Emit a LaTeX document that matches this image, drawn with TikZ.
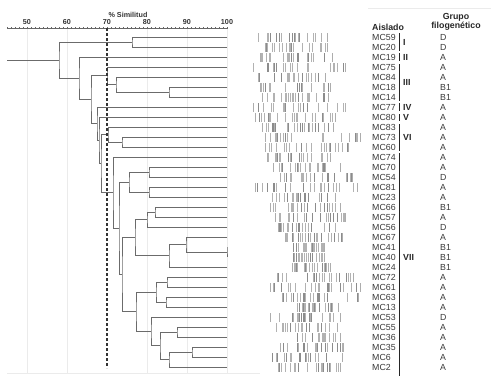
\documentclass[tikz,border=0pt]{standalone}
\usepackage{fontspec}
\setmainfont{Liberation Sans}

\begin{document}
\begin{tikzpicture}[x=1pt, y=-1pt,
  branch/.style={draw=black!58, line width=0.9pt},
  cut/.style={draw=black!80, line width=1.1pt, dash pattern=on 3pt off 2pt},
  grid/.style={draw=black!8, line width=0.6pt},
  axis/.style={draw=black!60, line width=0.6pt},
  iso/.style={anchor=west, inner sep=0pt, text=black!78, font=\fontsize{8.8}{10}\selectfont},
  head/.style={inner sep=0pt, text=black!85, font=\fontsize{8.8}{10}\selectfont\bfseries},
  scale lbl/.style={inner sep=0pt, text=black!80, font=\fontsize{7.2}{8}\selectfont\bfseries},
  clus/.style={draw=black!85, line width=1.9pt},
  clus lbl/.style={anchor=west, inner sep=0pt, text=black!85, font=\fontsize{8.8}{10}\selectfont\bfseries}
]
  \useasboundingbox (0,0) rectangle (491,386);

  % similarity scale
  \foreach \t in {27,67,147,187,227} \draw[grid] (\t,28) -- (\t,373);
  \draw[grid] (7,373) -- (260,373);
  \draw[grid] (368,8) -- (491,8);
  \draw[axis] (7,28) -- (227,28);
  \foreach \t in {7,11,...,227} \draw[axis] (\t,26.8) -- (\t,29.2);
  \foreach \v in {50,60,...,100}
    \node[scale lbl] (s\v) at ({27+(\v-50)*4},22) {\v};
  \node[scale lbl] (simil) at (128,15) {\% Similitud};

  % isolates and phylogenetic groups
  \node[head, anchor=west] (aisl) at (372,27) {Aislado};
  \node[head, align=center] (grupo) at (456,21.5) {Grupo\\[-1pt]filogenético};
  \foreach \n/\g [count=\i from 0] in {MC59/D, MC20/D, MC19/A, MC75/A, MC84/A, MC18/B1,
      MC14/B1, MC77/A, MC80/A, MC83/A, MC73/A, MC60/A, MC74/A, MC70/A, MC54/D, MC81/A,
      MC23/A, MC66/B1, MC57/A, MC56/D, MC67/A, MC41/B1, MC40/B1, MC24/B1, MC72/A, MC61/A,
      MC63/A, MC13/A, MC53/D, MC55/A, MC36/A, MC35/A, MC6/A, MC2/A} {
    \node[iso] (iso\i) at (372,{37+10*\i}) {\n};
    \node[iso] (grp\i) at (440,{37+10*\i}) {\g};
    \coordinate (e\i) at (227,{37+10*\i});
  }

  % cluster bars
  \foreach \ya/\yb/\r/\yl in {33/51/I/42, 53/61/II/57, 64/101/III/82, 103/111/IV/107,
      114/121/V/117, 124/151/VI/137, 153/376/VII/257} {
    \draw[clus] (399.5,\ya) -- (399.5,\yb);
    \node[clus lbl] (c\r) at (403,\yl) {\r};
  }

  % fingerprint bands
  \pgfmathsetseed{31}
  \foreach \a/\b [count=\i from 0] in {258/327, 265/327, 260/332, 253/345, 258/325, 260/330,
      262/328, 253/345, 255/335, 262/333, 265/360, 265/348, 267/330, 273/340, 280/352, 255/357,
      272/335, 270/340, 275/345, 278/335, 285/342, 293/324, 293/324, 292/330, 277/353, 270/360,
      282/358, 297/338, 270/340, 276/337, 297/340, 280/343, 272/342, 278/340} {
    \draw[black!32, line width=0.6pt] (\a,{33+10*\i}) -- (\a,{41.5+10*\i})
      (\b,{33+10*\i}) -- (\b,{41.5+10*\i});
    \foreach \k in {1,...,20} {
      \pgfmathsetmacro\bx{\a+rnd*(\b-\a)}
      \pgfmathsetmacro\bs{rnd>0.7 ? 45 : 30}
      \draw[black!\bs, line width=0.6pt] (\bx,{33+10*\i}) -- (\bx,{41.5+10*\i});
    }
  }

  % dendrogram
  \coordinate (gI) at (132,42);
  \coordinate (h56) at (169,92);
  \coordinate (h4) at (116,84.5);
  \coordinate (gIII) at (107,75.75);
  \coordinate (vA) at (122,142);
  \coordinate (gVI) at (108,134.5);
  \coordinate (f1) at (149,172);
  \coordinate (f2) at (149,192);
  \coordinate (fE) at (129,182);
  \coordinate (k1) at (155,212);
  \coordinate (kL) at (147,219.5);
  \coordinate (k2) at (227,252);
  \coordinate (kN) at (186,244.5);
  \coordinate (kM) at (169,255.75);
  \coordinate (kI) at (135,237.63);
  \coordinate (o1) at (167,282);
  \coordinate (o2) at (166,302);
  \coordinate (kO) at (156,292);
  \coordinate (q1) at (177,332);
  \coordinate (s1) at (192,352);
  \coordinate (kT) at (169,359.5);
  \coordinate (kQ) at (160,345.75);
  \coordinate (kP) at (151,331.38);
  \coordinate (kK) at (136,311.69);
  \coordinate (kJ) at (122,274.66);
  \coordinate (kD) at (119,228.33);
  \coordinate (gVII) at (113,192.66);
  \coordinate (nC) at (101,163.58);
  \coordinate (nB) at (99,140.29);
  \coordinate (nA) at (97,123.65);
  \coordinate (n66) at (91,99.7);
  \coordinate (n63) at (79,78.35);
  \coordinate (root) at (59,60.17);
  \coordinate (stem) at (7,60.17);

  \foreach \n/\a/\b in {gI/e0/e1, h56/e5/e6, h4/e4/h56, gIII/e3/h4, vA/e10/e11, gVI/e9/vA,
      f1/e13/e14, f2/e15/e16, fE/f1/f2, k1/e17/e18, kL/k1/e19, k2/e21/e22, kN/e20/k2,
      kM/kN/e23, kI/kL/kM, o1/e24/e25, o2/e26/e27, kO/o1/o2, q1/e29/e30, s1/e31/e32,
      kT/s1/e33, kQ/q1/kT, kP/e28/kQ, kK/kO/kP, kJ/kI/kK, kD/fE/kJ, gVII/e12/kD,
      nC/gVI/gVII, nB/e8/nC, nA/e7/nB, n66/gIII/nA, n63/e2/n66, root/gI/n63}
    \draw[branch] (\a) -| (\n) |- (\b);
  \draw[branch] (stem) -- (root);

  % 70% cut-off
  \draw[cut] (107,28) -- (107,368);
\end{tikzpicture}
\end{document}
